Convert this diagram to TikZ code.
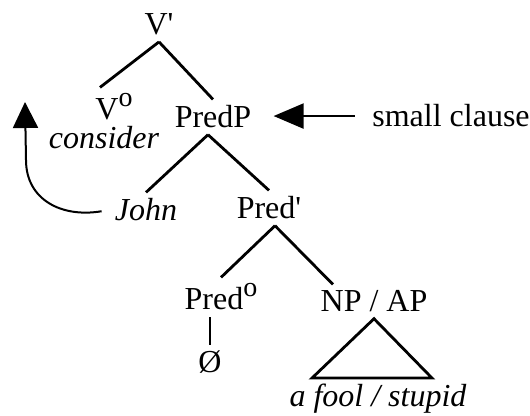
\documentclass[tikz,border=0pt]{standalone}
\usepackage{fontspec}
\setmainfont{Liberation Serif}
\usetikzlibrary{arrows.meta, positioning}
\newcommand{\lev}{\raisebox{6.5pt}{\fontsize{14}{14}\selectfont o}}

\begin{document}
\begin{tikzpicture}[x=0.5pt, y=-0.5pt, every node/.style={font=\fontsize{16}{19}\selectfont, inner sep=3pt, anchor=base},
        branch/.style={line width=1.4pt},
        pointer/.style={line width=1.15pt, -{Triangle[length=15pt, width=12.5pt]}}]
            \useasboundingbox (0,0) rectangle (530,416);

            \node (vbar) at (159,35) {V\textquotesingle};
            \node (vo) at (114,120) {V\lev};
            \node[font=\fontsize{16}{19}\selectfont\itshape] (consider) at (104,149) {consider};
            \node (predp) at (213,128) {PredP};
            \node (clause) at (451,127) {small clause};
            \node[font=\fontsize{16}{19}\selectfont\itshape] (john) at (146,221) {John};
            \node (predbar) at (269,219) {Pred\textquotesingle};
            \node (predo) at (221,310) {Pred\lev};
            \node (empty) at (210,373) {Ø};
            \node (npap) at (374,312) {NP / AP};
            \node[font=\fontsize{16}{19}\selectfont\itshape] (fool) at (378,407) {a fool / stupid};
            \coordinate (trace) at (25,102);

            \draw[branch] (vbar.south) -- ([xshift=-7pt]vo.north);
            \draw[branch] (vbar.south) -- (predp.north);
            \draw[branch] ([xshift=-2.5pt]predp.south) -- (john.north);
            \draw[branch] ([xshift=-2.5pt]predp.south) -- (predbar.north);
            \draw[branch] ([xshift=3pt]predbar.south) -- (predo.north);
            \draw[branch] ([xshift=3pt]predbar.south) -- ([xshift=-20.5pt]npap.north);
            \draw[branch] (empty.north) -- (empty.north |- predo.south);
            \draw[branch] (npap.south) -- ([xshift=-33pt]fool.north) -- ([xshift=27pt]fool.north) -- cycle;

            \draw[pointer, shorten <=5.5pt, shorten >=8pt] (clause.west) -- (clause.west -| predp.east);
            \draw[pointer, line width=1pt, -{Triangle[length=13pt, width=12.5pt]}, shorten <=3.5pt] (john.west) .. controls (62,218) and (26,200) .. (26,160) -- (trace);
        \end{tikzpicture}
\end{document}
